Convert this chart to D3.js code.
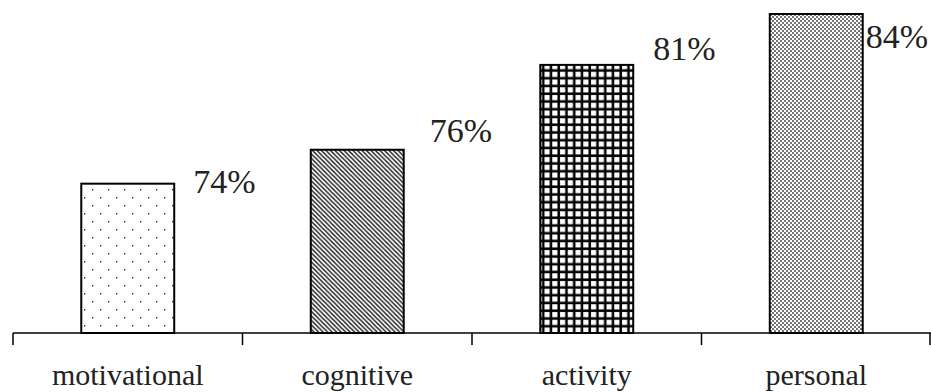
<!DOCTYPE html>
<html>
<head>
<meta charset="utf-8">
<script src="https://cdn.jsdelivr.net/npm/d3@7"></script>
<style>
  body { margin: 0; background: #fff; }
  svg { display: block; }
</style>
</head>
<body>
<div id="container"></div>
<script>
let w = 931;
let h = 392;

// data
var categories = ["motivational", "cognitive", "activity", "personal"];
var values = [74, 76, 81, 84];
var patterns = ["dots", "diag", "grid", "fine"];

// label nudges (layout only)
var labelDx = [19, 26, 20, 3];
var labelDy = [2, -16, -13, 26];

let x = d3.scaleBand().domain(categories).range([13, 931]).paddingInner(0.595).paddingOuter(0.2975);
let y = d3.scaleLinear().domain([65.2, 84]).range([333, 14]);

let viz = d3.select("#container")
  .append("svg")
  .attr("width", w)
  .attr("height", h);

let defs = viz.append("defs");

// sparse dots
let p1 = defs.append("pattern").attr("id", "dots")
  .attr("patternUnits", "userSpaceOnUse").attr("width", 16).attr("height", 16);
p1.append("rect").attr("width", 16).attr("height", 16).attr("fill", "#fff");
p1.append("rect").attr("x", 4).attr("y", 5).attr("width", 1.4).attr("height", 1.4).attr("fill", "#333");
p1.append("rect").attr("x", 12).attr("y", 13).attr("width", 1.4).attr("height", 1.4).attr("fill", "#333");

// diagonal lines
let p2 = defs.append("pattern").attr("id", "diag")
  .attr("patternUnits", "userSpaceOnUse").attr("width", 4.5).attr("height", 4.5);
p2.append("rect").attr("width", 4.5).attr("height", 4.5).attr("fill", "#fff");
p2.append("path").attr("d", "M-1,-1 L5.5,5.5 M-1,3.5 L1,5.5 M3.5,-1 L5.5,1")
  .attr("stroke", "#111").attr("stroke-width", 1.4);

// grid
let p3 = defs.append("pattern").attr("id", "grid")
  .attr("patternUnits", "userSpaceOnUse").attr("width", 7.75).attr("height", 7.75);
p3.append("rect").attr("width", 7.75).attr("height", 7.75).attr("fill", "#000");
p3.append("rect").attr("x", 2).attr("y", 2).attr("width", 5.2).attr("height", 5.2).attr("fill", "#fff");

// fine dots
let p4 = defs.append("pattern").attr("id", "fine")
  .attr("patternUnits", "userSpaceOnUse").attr("width", 4).attr("height", 4);
p4.append("rect").attr("width", 4).attr("height", 4).attr("fill", "#fff");
p4.append("circle").attr("cx", 1).attr("cy", 1).attr("r", 0.95).attr("fill", "#3a3a3a");
p4.append("circle").attr("cx", 3).attr("cy", 3).attr("r", 0.95).attr("fill", "#3a3a3a");

let rows = categories.map(function(c, i) {
  return { cat: c, value: values[i], pat: patterns[i], dx: labelDx[i], dy: labelDy[i] };
});

viz.selectAll(".bar").data(rows).enter()
  .append("rect")
  .attr("class", "bar")
  .attr("x", d => x(d.cat))
  .attr("y", d => y(d.value))
  .attr("width", x.bandwidth())
  .attr("height", d => y.range()[0] - y(d.value))
  .attr("fill", d => "url(#" + d.pat + ")")
  .attr("stroke", "#000")
  .attr("stroke-width", 2);

viz.selectAll(".vlabel").data(rows).enter()
  .append("text")
  .attr("class", "vlabel")
  .attr("x", d => x(d.cat) + x.bandwidth() + d.dx)
  .attr("y", d => y(d.value) + d.dy)
  .attr("dominant-baseline", "middle")
  .attr("font-family", "Liberation Serif")
  .attr("font-size", 34)
  .attr("fill", "#222")
  .text(d => d.value + "%");

// x axis
let axisG = viz.append("g").attr("transform", "translate(0,333)");
axisG.append("line")
  .attr("x1", 13).attr("x2", 931)
  .attr("stroke", "#000").attr("stroke-width", 1.5);
let step = x.step();
let ticks = d3.range(categories.length + 1).map(i => 13 + i * step);
axisG.selectAll(".tk").data(ticks).enter()
  .append("line")
  .attr("x1", d => Math.min(d, 930)).attr("x2", d => Math.min(d, 930))
  .attr("y1", 0).attr("y2", 12)
  .attr("stroke", "#000").attr("stroke-width", 1.5);
axisG.selectAll(".cl").data(categories).enter()
  .append("text")
  .attr("x", d => x(d) + x.bandwidth() / 2)
  .attr("y", 52)
  .attr("text-anchor", "middle")
  .attr("font-family", "Liberation Serif")
  .attr("font-size", 30)
  .attr("fill", "#222")
  .text(d => d);
</script>
</body>
</html>
